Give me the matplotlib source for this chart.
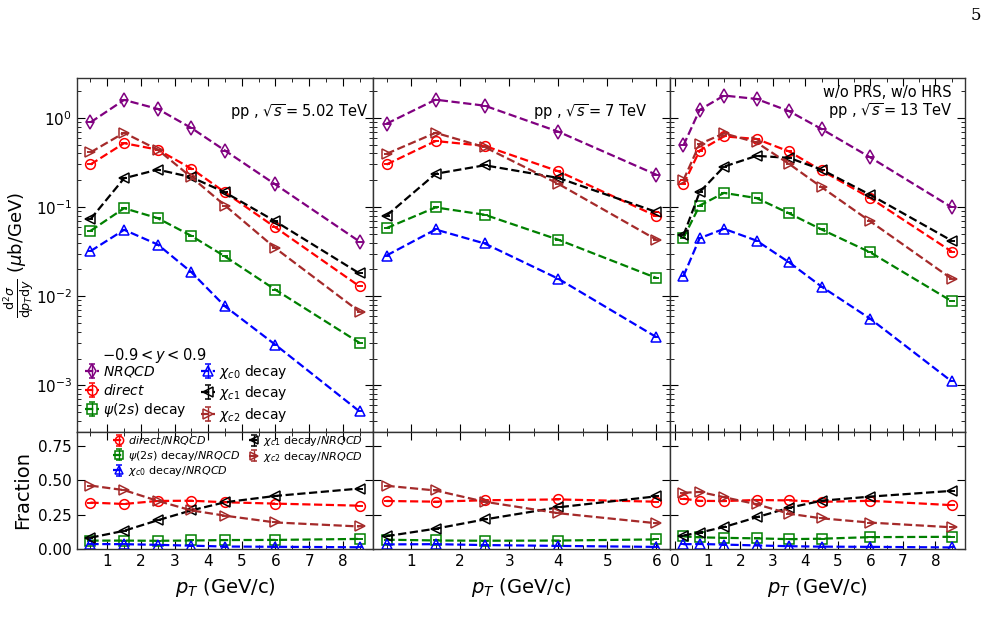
import numpy as np
import matplotlib
matplotlib.use("Agg")
import matplotlib.pyplot as plt
from matplotlib.ticker import MultipleLocator, LogLocator, NullFormatter

# ---------------- data ----------------
pt_502 = [0.5, 1.5, 2.5, 3.5, 4.5, 6.0, 8.5]
nrqcd_502 = [0.89, 1.59, 1.26, 0.77, 0.43, 0.179, 0.041]
direct_502 = [0.30, 0.52, 0.44, 0.27, 0.146, 0.059, 0.0129]
psi2s_502 = [0.054, 0.097, 0.075, 0.0475, 0.0279, 0.0118, 0.0030]
chic0_502 = [0.032, 0.0555, 0.038, 0.0186, 0.0077, 0.00285, 0.00051]
chic1_502 = [0.073, 0.21, 0.263, 0.216, 0.146, 0.069, 0.018]
chic2_502 = [0.41, 0.68, 0.44, 0.216, 0.104, 0.0345, 0.0067]

pt_7 = [0.5, 1.5, 2.5, 4.0, 6.0]
nrqcd_7 = [0.86, 1.60, 1.37, 0.70, 0.23]
direct_7 = [0.30, 0.55, 0.485, 0.252, 0.079]
psi2s_7 = [0.058, 0.099, 0.082, 0.043, 0.016]
chic0_7 = [0.0286, 0.056, 0.039, 0.0157, 0.00347]
chic1_7 = [0.080, 0.236, 0.294, 0.212, 0.088]
chic2_7 = [0.395, 0.68, 0.47, 0.182, 0.043]

pt_13 = [0.25, 0.75, 1.5, 2.5, 3.5, 4.5, 6.0, 8.5]
nrqcd_13 = [0.49, 1.23, 1.78, 1.63, 1.19, 0.75, 0.36, 0.0995]
direct_13 = [0.179, 0.43, 0.62, 0.58, 0.42, 0.257, 0.126, 0.0317]
psi2s_13 = [0.045, 0.104, 0.144, 0.126, 0.085, 0.056, 0.031, 0.0088]
chic0_13 = [0.0168, 0.0447, 0.057, 0.042, 0.024, 0.0128, 0.00558, 0.00111]
chic1_13 = [0.048, 0.147, 0.284, 0.375, 0.356, 0.263, 0.137, 0.042]
chic2_13 = [0.20, 0.51, 0.67, 0.53, 0.305, 0.167, 0.069, 0.0157]

energy_labels = [r"pp , $\sqrt{s}=5.02$ TeV", r"pp , $\sqrt{s}=7$ TeV",
                 "w/o PRS, w/o HRS\n" + r"pp , $\sqrt{s}=13$ TeV"]
xticks_502 = [1, 2, 3, 4, 5, 6, 7, 8]
xticks_7 = [1, 2, 3, 4, 5, 6]
xticks_13 = [0, 1, 2, 3, 4, 5, 6, 7, 8]

datasets = [
    (pt_502, nrqcd_502, direct_502, psi2s_502, chic0_502, chic1_502, chic2_502, xticks_502),
    (pt_7, nrqcd_7, direct_7, psi2s_7, chic0_7, chic1_7, chic2_7, xticks_7),
    (pt_13, nrqcd_13, direct_13, psi2s_13, chic0_13, chic1_13, chic2_13, xticks_13),
]

# ---------------- style ----------------
plt.rcParams['font.family'] = ['DejaVu Sans']
plt.rcParams['mathtext.fontset'] = 'dejavusans'

top_styles = [
    ("purple", "d", r"$\it{NRQCD}$"),
    ("red", "o", r"$\it{direct}$"),
    ("green", "s", r"$\psi(2s)$ decay"),
    ("blue", "^", r"$\chi_{c0}$ decay"),
    ("black", "<", r"$\chi_{c1}$ decay"),
    ("brown", ">", r"$\chi_{c2}$ decay"),
]
frac_styles = [
    ("red", "o", r"$\it{direct/NRQCD}$"),
    ("green", "s", r"$\psi(2s)$ decay/$\it{NRQCD}$"),
    ("blue", "^", r"$\chi_{c0}$ decay/$\it{NRQCD}$"),
    ("black", "<", r"$\chi_{c1}$ decay/$\it{NRQCD}$"),
    ("brown", ">", r"$\chi_{c2}$ decay/$\it{NRQCD}$"),
]

fig = plt.figure(figsize=(10, 6.23), dpi=100)

lefts = [0.077, 0.373, 0.670]
widths = [0.296, 0.297, 0.295]
top_b, top_h = 0.3066, 0.5682
bot_b, bot_h = 0.1188, 0.1878

text_x = [0.982, 0.926, 0.956]
text_y = [0.905, 0.905, 0.93]

def style_ax(ax):
    ax.tick_params(which='both', direction='in', top=True, right=True, labelsize=11)
    ax.tick_params(which='major', length=6)
    ax.tick_params(which='minor', length=3)
    for sp in ax.spines.values():
        sp.set_linewidth(1.0)
        sp.set_color('#333333')

for i, (pt, nrq, dr, ps, c0, c1, c2, xt) in enumerate(datasets):
    axt = fig.add_axes([lefts[i], top_b, widths[i], top_h])
    axb = fig.add_axes([lefts[i], bot_b, widths[i], bot_h], sharex=axt)
    series = [nrq, dr, ps, c0, c1, c2]
    for (col, mk, lab), vals in zip(top_styles, series):
        axt.errorbar(pt, vals, yerr=np.zeros(len(vals)), color=col, marker=mk,
                     mfc='none', mec=col, ms=7, mew=1.1, ls='--', lw=1.6,
                     capsize=2.5, elinewidth=1.0, label=lab)
    axt.set_yscale('log')
    axt.set_ylim(3.0e-4, 2.8)
    axt.yaxis.set_major_locator(LogLocator(base=10, numticks=10))
    axt.yaxis.set_minor_locator(LogLocator(base=10, subs=np.arange(2, 10), numticks=20))
    axt.yaxis.set_minor_formatter(NullFormatter())
    style_ax(axt)
    axt.tick_params(labelbottom=False)
    if i > 0:
        axt.tick_params(labelleft=False)
    axt.text(text_x[i], text_y[i], energy_labels[i], transform=axt.transAxes,
             ha='right', va='center', fontsize=10.5, linespacing=1.1, multialignment='right')

    frac_series = [np.array(s) / np.array(nrq) for s in [dr, ps, c0, c1, c2]]
    for (col, mk, lab), vals in zip(frac_styles, frac_series):
        axb.errorbar(pt, vals, yerr=np.zeros(len(vals)), color=col, marker=mk,
                     mfc='none', mec=col, ms=7, mew=1.1, ls='--', lw=1.6,
                     capsize=2.5, elinewidth=1.0, label=lab)
    axb.set_ylim(0, 0.85)
    axb.set_yticks([0.0, 0.25, 0.5, 0.75])
    axb.set_xticks(xt)
    axb.xaxis.set_minor_locator(MultipleLocator(0.5))
    style_ax(axb)
    if i > 0:
        axb.tick_params(labelleft=False)
    axb.set_xlabel(r"$p_T$ (GeV/c)", fontsize=14)
    axb.xaxis.set_label_coords(0.5, -0.235)

    if i == 0:
        axt.set_ylabel(r"$\frac{\mathrm{d}^2\sigma}{\mathrm{d}p_T\mathrm{d}y}$ ($\mu$b/GeV)", fontsize=13)
        axt.yaxis.set_label_coords(-0.135, 0.5)
        axb.set_ylabel("Fraction", fontsize=14)
        axb.yaxis.set_label_coords(-0.15, 0.5)
        axt.text(0.083, 0.215, r"$-0.9 < y < 0.9$", transform=axt.transAxes,
                 ha='left', va='center', fontsize=10.5)
        axt.legend(loc='lower left', bbox_to_anchor=(0.0, 0.0), ncol=2, frameon=False,
                   fontsize=10, handlelength=1.0, handletextpad=0.3,
                   columnspacing=1.0, labelspacing=0.25, borderaxespad=0.2)
        lg = axb.legend(loc='upper left', bbox_to_anchor=(0.1, 1.04), ncol=2, frameon=False,
                        fontsize=8, handlelength=1.0, handletextpad=0.3, markerscale=0.85,
                        columnspacing=0.8, labelspacing=0.15, borderaxespad=0.2)

fig.text(0.976, 0.975, "5", fontsize=12, family='DejaVu Serif', ha='center', va='center')

fig.savefig("out.png", dpi=100)
